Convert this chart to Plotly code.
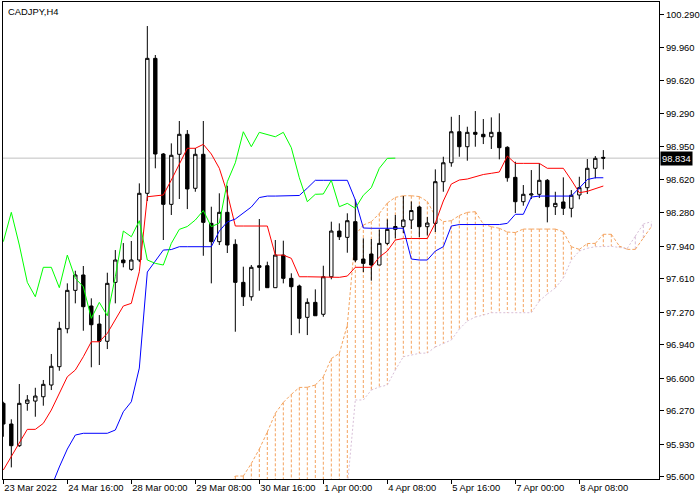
import plotly.graph_objects as go

# ---------------- data (CADJPY, H4) ----------------
bars = list(range(76))
opens = [96.345, 96.135, 95.915, 96.345, 96.368, 96.412, 96.531, 96.717, 97.102, 97.492,
         97.648, 97.333, 97.150, 96.975, 97.573, 97.800, 97.705, 97.800, 98.477, 99.847,
         98.876, 98.365, 98.873, 99.076, 98.528, 98.873, 98.172, 97.986, 98.284, 97.959,
         97.573, 97.427, 97.742, 97.742, 97.519, 97.850, 97.614, 97.536, 97.218, 97.370,
         97.249, 97.630, 98.094, 98.030, 98.189, 97.810, 97.861, 97.749, 97.969, 98.111,
         98.138, 98.206, 98.338, 98.138, 98.172, 98.595, 98.787, 99.102, 98.950, 99.096,
         99.076, 99.051, 99.096, 98.944, 98.639, 98.392, 98.460, 98.467, 98.609, 98.341,
         98.389, 98.325, 98.460, 98.534, 98.731, 98.842]
highs = [96.361, 96.183, 96.541, 96.429, 96.503, 96.582, 96.846, 97.173, 97.563, 97.691,
         97.739, 97.411, 97.241, 97.671, 97.901, 97.972, 97.993, 98.578, 100.175, 99.881,
         98.886, 98.984, 99.211, 99.119, 98.937, 99.211, 98.341, 98.477, 98.554, 98.010,
         97.732, 97.749, 98.216, 97.783, 98.003, 97.996, 97.665, 97.550, 97.411, 97.502,
         97.742, 98.189, 98.172, 98.274, 98.414, 98.020, 98.013, 98.109, 98.213, 98.257,
         98.449, 98.394, 98.353, 98.236, 98.720, 98.848, 99.254, 99.272, 99.153, 99.312,
         99.231, 99.248, 99.289, 98.955, 98.798, 98.561, 98.713, 98.781, 98.622, 98.493,
         98.639, 98.510, 98.645, 98.825, 98.855, 98.916]
lows = [96.006, 95.695, 95.902, 96.270, 96.209, 96.321, 96.480, 96.676, 97.056, 97.360,
        97.082, 96.711, 96.734, 96.896, 97.360, 97.726, 97.691, 97.779, 98.399, 98.731,
        98.003, 98.257, 98.419, 98.317, 98.493, 97.843, 97.563, 97.952, 97.871, 97.072,
        97.333, 97.387, 97.488, 97.519, 97.519, 97.563, 97.038, 97.056, 97.038, 97.234,
        97.224, 97.604, 98.003, 97.874, 97.779, 97.678, 97.590, 97.749, 97.952, 98.020,
        98.074, 98.114, 98.033, 98.048, 98.084, 98.493, 98.747, 98.848, 98.808, 98.950,
        98.977, 98.927, 98.822, 98.595, 98.277, 98.351, 98.419, 98.429, 98.182, 98.257,
        98.257, 98.233, 98.416, 98.470, 98.629, 98.720]
closes = [96.135, 95.915, 96.345, 96.379, 96.419, 96.538, 96.721, 97.106, 97.492, 97.648,
          97.326, 97.143, 96.975, 97.563, 97.800, 97.772, 97.800, 98.477, 99.847, 98.876,
          98.365, 98.863, 99.076, 98.521, 98.873, 98.182, 97.986, 98.284, 97.952, 97.573,
          97.427, 97.726, 97.726, 97.519, 97.850, 97.614, 97.529, 97.208, 97.370, 97.234,
          97.630, 98.094, 98.036, 98.199, 97.800, 97.766, 97.749, 97.969, 98.111, 98.140,
          98.206, 98.302, 98.138, 98.175, 98.595, 98.787, 99.102, 98.950, 99.096, 99.076,
          99.051, 99.096, 98.940, 98.635, 98.392, 98.467, 98.470, 98.609, 98.341, 98.375,
          98.325, 98.457, 98.534, 98.731, 98.832, 98.834]

# Ichimoku lines
tenkan = [95.668, 95.803, 95.945, 96.081, 96.081, 96.142, 96.277, 96.447, 96.615, 96.683,
          96.818, 96.970, 96.970, 97.056, 97.191, 97.333, 97.360, 97.681, 98.442, 98.449,
          98.460, 98.612, 98.781, 98.934, 98.934, 98.974, 98.876, 98.731, 98.477, 98.145,
          98.145, 98.145, 98.145, 98.145, 97.850, 97.850, 97.817, 97.630, 97.630, 97.630,
          97.630, 97.630, 97.624, 97.637, 97.726, 97.726, 97.726, 97.830, 97.891, 98.003,
          98.018, 98.018, 98.018, 98.018, 98.175, 98.399, 98.571, 98.612, 98.622, 98.647,
          98.668, 98.680, 98.693, 98.855, 98.781, 98.781, 98.781, 98.781, 98.731, 98.731,
          98.731, 98.612, 98.483, 98.497, 98.521, 98.551]
kijun = [None, None, None, None, None, None, 95.496, 95.699, 95.881, 96.023,
         96.041, 96.041, 96.041, 96.041, 96.074, 96.260, 96.361, 96.703, 97.678, 97.790,
         97.901, 97.906, 97.935, 97.935, 97.935, 97.935, 97.935, 98.094, 98.186, 98.216,
         98.277, 98.338, 98.434, 98.449, 98.449, 98.449, 98.449, 98.455, 98.530, 98.609,
         98.609, 98.609, 98.609, 98.609, 98.409, 98.125, 98.122, 98.122, 98.122, 98.122,
         98.122, 97.810, 97.800, 97.800, 97.891, 97.935, 98.145, 98.160, 98.160, 98.160,
         98.160, 98.160, 98.160, 98.172, 98.264, 98.264, 98.439, 98.449, 98.449, 98.449,
         98.449, 98.449, 98.531, 98.617, 98.635, 98.635]
chikou_shift = 26

cloud_bars = list(range(28, 82))
span_a = [95.465, 95.607, 95.607, 95.734, 95.881, 96.054, 96.244, 96.355, 96.436, 96.506,
          96.508, 96.531, 96.615, 96.800, 96.851, 97.140, 98.054, 98.155, 98.189, 98.272,
          98.378, 98.436, 98.452, 98.452, 98.444, 98.394, 98.246, 98.189, 98.199, 98.252,
          98.284, 98.290, 98.165, 98.138, 98.122, 98.084, 98.079, 98.114, 98.114, 98.114,
          98.114, 98.114, 98.087, 97.935, 97.908, 97.967, 97.969, 98.061, 98.061, 97.942,
          97.908, 97.908, 98.023, 98.138]
span_b = [95.300, 95.300, 95.300, 95.300, 95.300, 95.300, 95.300, 95.300, 95.300, 95.300,
          95.300, 95.300, 95.300, 95.300, 95.300, 95.500, 96.379, 96.379, 96.480, 96.511,
          96.531, 96.683, 96.818, 96.835, 96.853, 96.856, 96.917, 96.952, 96.988, 97.099,
          97.181, 97.221, 97.241, 97.265, 97.265, 97.265, 97.265, 97.265, 97.265, 97.384,
          97.455, 97.516, 97.617, 97.800, 97.891, 97.919, 97.935, 97.937, 97.939, 97.927,
          97.919, 98.043, 98.165, 98.189]

y_ticks = [95.600, 95.930, 96.270, 96.600, 96.940, 97.270, 97.610, 97.940,
           98.280, 98.620, 98.950, 99.290, 99.620, 99.960, 100.290]
x_tick_bars = [0, 8, 16, 24, 32, 40, 48, 56, 64, 72]
x_tick_labels = ["23 Mar 2022", "24 Mar 16:00", "28 Mar 00:00", "29 Mar 08:00",
                 "30 Mar 16:00", "1 Apr 00:00", "4 Apr 08:00", "5 Apr 16:00",
                 "7 Apr 00:00", "8 Apr 08:00"]
symbol_title = "CADJPY,H4"

# ---------------- styles ----------------
FONT = "Liberation Sans, Arial, sans-serif"
FS = 9.4
ORANGE = "#F4A460"
THISTLE = "#D8BFD8"

fig = go.Figure()

# cloud (kept behind the candles): vertical dashed lines between span A and span B
for k, a, b in zip(cloud_bars, span_a, span_b):
    fig.add_shape(type="line", xref="x", yref="y", x0=k, x1=k, y0=a, y1=b, layer="below",
                  line=dict(color=ORANGE if a >= b else THISTLE, width=1, dash="3px,2px"))
# span A / span B outlines, also behind the candles
for i in range(len(cloud_bars) - 1):
    k0, k1 = cloud_bars[i], cloud_bars[i + 1]
    fig.add_shape(type="line", xref="x", yref="y", x0=k0, x1=k1, y0=span_a[i], y1=span_a[i + 1],
                  layer="below", line=dict(color=ORANGE, width=1, dash="3px,2px"))
    fig.add_shape(type="line", xref="x", yref="y", x0=k0, x1=k1, y0=span_b[i], y1=span_b[i + 1],
                  layer="below", line=dict(color=THISTLE, width=1, dash="2px,2px"))

# candles
fig.add_trace(go.Candlestick(
    x=bars, open=opens, high=highs, low=lows, close=closes,
    increasing=dict(fillcolor="white", line=dict(color="black", width=1)),
    decreasing=dict(fillcolor="black", line=dict(color="black", width=1)),
    whiskerwidth=0, hoverinfo="skip", showlegend=False))

# tenkan / kijun / chikou
fig.add_trace(go.Scatter(x=bars, y=tenkan, mode="lines", line=dict(color="#FF0000", width=1),
                         hoverinfo="skip", showlegend=False))
fig.add_trace(go.Scatter(x=bars, y=kijun, mode="lines", line=dict(color="#0000FF", width=1),
                         hoverinfo="skip", showlegend=False, connectgaps=False))
chikou_x = bars[:len(bars) - chikou_shift]
chikou_y = closes[chikou_shift:]
fig.add_trace(go.Scatter(x=chikou_x, y=chikou_y, mode="lines", line=dict(color="#00FF00", width=1),
                         hoverinfo="skip", showlegend=False))

# bid line
last = closes[-1]
fig.add_shape(type="line", xref="paper", x0=0, x1=1, yref="y", y0=last, y1=last,
              line=dict(color="#C0C0C0", width=1), layer="below")

fig.add_annotation(xref="paper", x=1, xanchor="left", xshift=1, yref="y", y=last,
                   text=f"{last:.3f}", showarrow=False, bgcolor="black",
                   font=dict(family=FONT, size=FS, color="white"), borderpad=1)
fig.add_annotation(xref="paper", x=0, xanchor="left", xshift=3, yref="paper", y=1,
                   yanchor="top", yshift=-2, text=symbol_title, showarrow=False,
                   font=dict(family=FONT, size=FS, color="black"))

fig.update_layout(
    width=700, height=500,
    margin=dict(l=3, r=41, t=2, b=21, autoexpand=False),
    paper_bgcolor="white", plot_bgcolor="white",
    showlegend=False, boxgap=0.4,
    font=dict(family=FONT, size=FS, color="black"),
    xaxis=dict(range=[-0.04, 81.96], showgrid=False, zeroline=False,
               tickmode="array", tickvals=x_tick_bars, ticktext=x_tick_labels,
               ticks="outside", ticklen=4, tickwidth=1, tickcolor="black",
               ticklabelposition="outside right", tickangle=0,
               showline=True, linecolor="black", linewidth=1, mirror=True,
               rangeslider=dict(visible=False),
               tickfont=dict(family=FONT, size=FS, color="black")),
    yaxis=dict(range=[95.577, 100.419], side="right", showgrid=False, zeroline=False,
               tickmode="array", tickvals=y_ticks, ticktext=[f"{v:.3f}" for v in y_ticks],
               ticks="outside", ticklen=4, tickwidth=1, tickcolor="black",
               showline=True, linecolor="black", linewidth=1, mirror=True,
               tickfont=dict(family=FONT, size=FS, color="black")),
)

fig.write_html("out.html", config={"displayModeBar": False},
               post_script="document.body.style.margin='0px';document.body.style.padding='0px';")
